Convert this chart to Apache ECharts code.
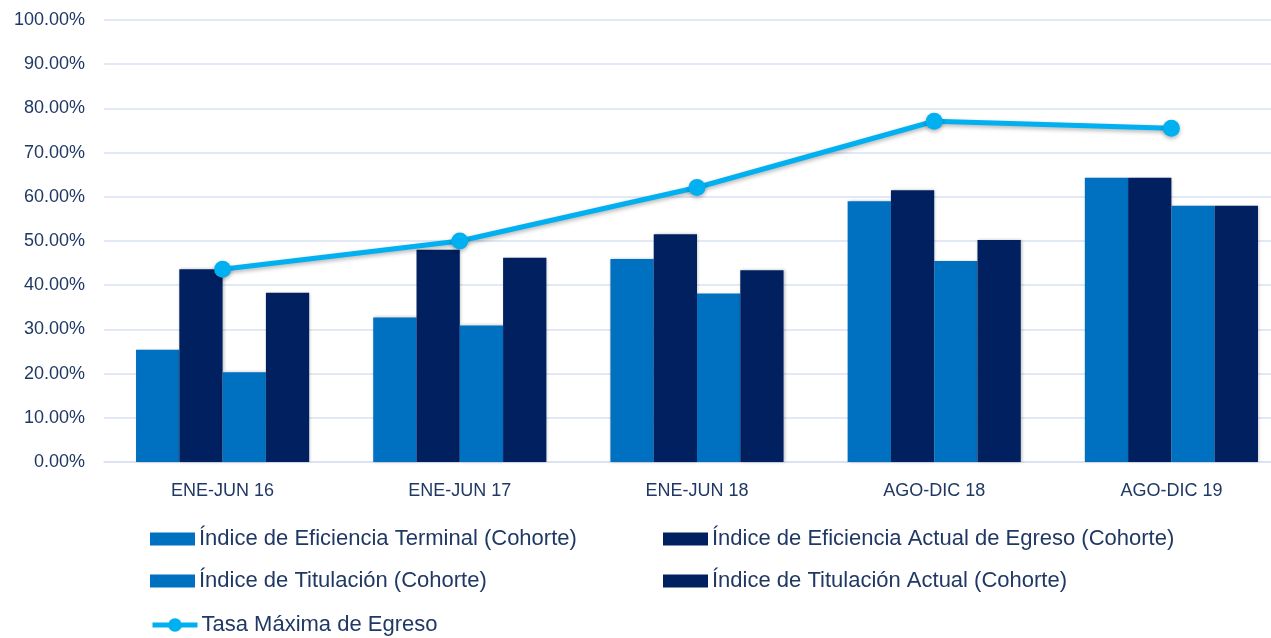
<!DOCTYPE html>
<html>
<head>
<meta charset="utf-8">
<script src="https://cdn.jsdelivr.net/npm/echarts@6/dist/echarts.min.js"></script>
<style>html,body{margin:0;padding:0;background:#fff;overflow:hidden}#c{width:1290px;height:638px}</style>
</head>
<body>
<div id="c"></div>
<script>
var categories = ['ENE-JUN 16', 'ENE-JUN 17', 'ENE-JUN 18', 'AGO-DIC 18', 'AGO-DIC 19'];
var eficienciaTerminal = [25.4, 32.7, 45.9, 59.0, 64.3];
var eficienciaActual = [43.6, 48.0, 51.5, 61.5, 64.3];
var titulacion = [20.3, 30.9, 38.1, 45.5, 58.0];
var titulacionActual = [38.3, 46.2, 43.4, 50.2, 58.0];
var tasaMaxima = [43.6, 50.0, 62.1, 77.1, 75.5];
var yTicks = [0, 10, 20, 30, 40, 50, 60, 70, 80, 90, 100];

var names = ['Índice de Eficiencia Terminal (Cohorte)', 'Índice de Eficiencia Actual de Egreso (Cohorte)',
  'Índice de Titulación (Cohorte)', 'Índice de Titulación Actual (Cohorte)', 'Tasa Máxima de Egreso'];
var LIGHT = '#0070C0', DARK = '#002060', LINE = '#00B0F0', TXT = '#203864';
var FONT = "'Liberation Sans', Arial, sans-serif";

function bar(name, data, color) {
  return {
    name: name, type: 'bar', data: data, barGap: '0%', barCategoryGap: '27%',
    itemStyle: { color: color, shadowColor: 'rgba(0,0,0,0.25)', shadowBlur: 3, shadowOffsetX: 1, shadowOffsetY: 0 }
  };
}
function leg(name, left, top, isLine) {
  var l = {
    data: [name], left: left, top: top, padding: 0, itemWidth: 45, itemHeight: isLine ? 17 : 13, itemGap: 0,
    textStyle: { color: TXT, fontSize: 22, lineHeight: 26, fontFamily: FONT, padding: [0, 0, 0, -1] }
  };
  if (isLine) {
    l.lineStyle = { width: 5, shadowBlur: 0 };
    l.itemStyle = { shadowBlur: 0 };
  } else {
    l.icon = 'rect';
    l.itemStyle = { shadowBlur: 0 };
  }
  return l;
}

var chart = echarts.init(document.getElementById('c'));
chart.setOption({
  animation: false,
  textStyle: { fontFamily: FONT },
  grid: { left: 104, right: 0, top: 20, bottom: 176, containLabel: false },
  legend: [
    leg(names[0], 150, 526),
    leg(names[1], 663, 526),
    leg(names[2], 150, 568),
    leg(names[3], 663, 568),
    leg(names[4], 150, 612, true)
  ],
  xAxis: {
    type: 'category', data: categories,
    axisLine: { show: true, lineStyle: { color: '#D9E1F2', width: 1.5 } },
    axisTick: { show: false },
    axisLabel: { color: TXT, fontSize: 18, fontFamily: FONT, margin: 20 }
  },
  yAxis: {
    type: 'value', min: yTicks[0], max: yTicks[yTicks.length - 1], interval: 10,
    axisLine: { show: false }, axisTick: { show: false },
    splitLine: { lineStyle: { color: '#D9E1F2', width: 1.5 } },
    axisLabel: { color: TXT, fontSize: 18, fontFamily: FONT, margin: 19,
      formatter: function (v) { return v.toFixed(2) + '%'; } }
  },
  series: [
    bar(names[0], eficienciaTerminal, LIGHT),
    bar(names[1], eficienciaActual, DARK),
    bar(names[2], titulacion, LIGHT),
    bar(names[3], titulacionActual, DARK),
    {
      name: names[4], type: 'line', data: tasaMaxima, symbol: 'circle', symbolSize: 17, z: 5,
      lineStyle: { color: LINE, width: 5, shadowColor: 'rgba(0,0,0,0.3)', shadowBlur: 4, shadowOffsetY: 2 },
      itemStyle: { color: LINE, shadowColor: 'rgba(0,0,0,0.3)', shadowBlur: 4, shadowOffsetY: 2 }
    }
  ]
});
</script>
</body>
</html>
